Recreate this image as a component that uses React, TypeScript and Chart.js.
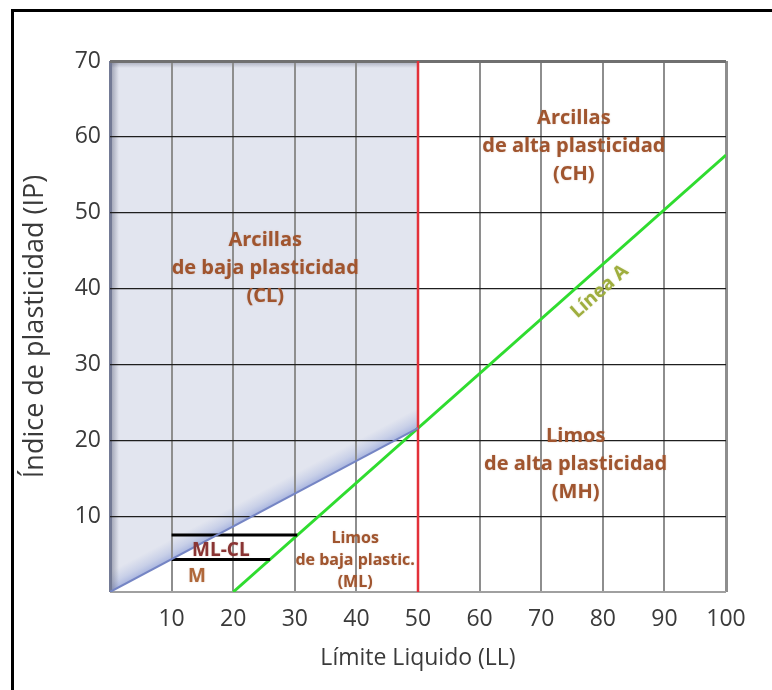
import { useEffect, useRef } from 'react';
import { Chart, registerables } from 'chart.js';

Chart.register(...registerables);

// ---- data ----
const xTickValues = [0, 10, 20, 30, 40, 50, 60, 70, 80, 90, 100];
const yTickValues = [0, 10, 20, 30, 40, 50, 60, 70];

const aLineLL = [20, 100];
const aLinePI = [0, 57.6];

const clBoundaryLL = [0, 50];
const clBoundaryPI = [0, 21.6];

const llLimitLL = [50, 50];
const llLimitPI = [0, 70];

const mlclUpperLL = [10, 30.4];
const mlclUpperPI = [7.5, 7.5];
const mlclLowerLL = [10, 26];
const mlclLowerPI = [4.3, 4.3];

const zoneLabels = [
  ['Arcillas', 'de baja plasticidad', '(CL)'],
  ['Arcillas', 'de alta plasticidad', '(CH)'],
  ['Limos', 'de alta plasticidad', '(MH)'],
  ['Limos', 'de baja plastic.', '(ML)'],
  ['ML-CL'],
  ['M'],
];
const zoneLL = [25.2, 75.3, 75.6, 39.8, 18.0, 14.1];
const zonePI = [42.7, 58.7, 16.9, 4.1, 5.5, 2.0];

const aLineLabel = 'Línea A';
const aLineLabelLL = 79.5;
const aLineLabelPI = 39.6;

const xTitle = 'Límite Liquido (LL)';
const yTitle = 'Índice de plasticidad (IP)';

// ---- styles ----
const FONT = "'Open Sans', 'DejaVu Sans', sans-serif";
const zoneStyles = [
  { size: 20, gap: 28, color: '#a0552f' },
  { size: 20, gap: 28, color: '#a0552f' },
  { size: 20, gap: 28, color: '#a0552f' },
  { size: 16, gap: 22, color: '#a0552f' },
  { size: 19, gap: 0, color: '#8a3434' },
  { size: 19, gap: 0, color: '#b0683a' },
];

const pts = (xs: number[], ys: number[]) => xs.map((v, i) => ({ x: v, y: ys[i] }));

const backgroundPlugin = {
  id: 'bgShade',
  beforeDraw(chart: any) {
    const { ctx } = chart;
    const x = chart.scales.x;
    const y = chart.scales.y;
    ctx.save();
    ctx.fillStyle = '#ffffff';
    ctx.fillRect(0, 0, chart.width, chart.height);
    ctx.fillStyle = '#000000';
    ctx.fillRect(11, 9, chart.width - 11, 3);
    ctx.fillRect(11, 9, 3, chart.height - 9);

    const x0 = x.getPixelForValue(clBoundaryLL[0]);
    const y0 = y.getPixelForValue(clBoundaryPI[0]);
    const x1 = x.getPixelForValue(clBoundaryLL[1]);
    const y1 = y.getPixelForValue(clBoundaryPI[1]);
    const top = y.getPixelForValue(y.max);
    ctx.beginPath();
    ctx.moveTo(x0, y0);
    ctx.lineTo(x1, y1);
    ctx.lineTo(x1, top);
    ctx.lineTo(x0, top);
    ctx.closePath();
    ctx.fillStyle = '#e2e5ef';
    ctx.fill();
    ctx.clip();

    // soft bluish glow above the boundary line (perpendicular gradient)
    const len = Math.hypot(x1 - x0, y1 - y0);
    const dx = (x1 - x0) / len;
    const dy = (y1 - y0) / len;
    const nx = dy;
    const ny = -dx;
    const g = ctx.createLinearGradient(x0, y0, x0 + nx * 18, y0 + ny * 18);
    g.addColorStop(0, 'rgba(120,140,210,0.55)');
    g.addColorStop(0.4, 'rgba(140,158,215,0.3)');
    g.addColorStop(1, 'rgba(150,165,215,0)');
    ctx.fillStyle = g;
    ctx.fillRect(x0 - 5, top, x1 - x0 + 10, y0 - top + 5);

    const gl = ctx.createLinearGradient(x0, 0, x0 + 9, 0);
    gl.addColorStop(0, 'rgba(85,90,115,0.55)');
    gl.addColorStop(1, 'rgba(85,90,115,0)');
    ctx.fillStyle = gl;
    ctx.fillRect(x0, top, 9, y0 - top);
    const gt = ctx.createLinearGradient(0, top, 0, top + 7);
    gt.addColorStop(0, 'rgba(85,90,115,0.45)');
    gt.addColorStop(1, 'rgba(85,90,115,0)');
    ctx.fillStyle = gt;
    ctx.fillRect(x0, top, x1 - x0, 7);
    ctx.restore();
  },
};

const labelPlugin = {
  id: 'zoneLabels',
  afterDatasetsDraw(chart: any) {
    const { ctx } = chart;
    const x = chart.scales.x;
    const y = chart.scales.y;
    ctx.save();
    ctx.textAlign = 'center';
    ctx.textBaseline = 'middle';
    zoneLabels.forEach((lines, i) => {
      const st = zoneStyles[i];
      const cx = x.getPixelForValue(zoneLL[i]);
      const cy = y.getPixelForValue(zonePI[i]);
      ctx.font = `bold ${st.size}px ${FONT}`;
      ctx.fillStyle = st.color;
      ctx.shadowColor = 'rgba(150,80,40,0.35)';
      ctx.shadowBlur = 1.5;
      const n = lines.length;
      lines.forEach((t, k) => {
        ctx.fillText(t, cx, cy + (k - (n - 1) / 2) * st.gap);
      });
    });
    // Línea A label rotated along the line
    const ax1 = x.getPixelForValue(aLineLL[0]);
    const ay1 = y.getPixelForValue(aLinePI[0]);
    const ax2 = x.getPixelForValue(aLineLL[1]);
    const ay2 = y.getPixelForValue(aLinePI[1]);
    const ang = Math.atan2(ay2 - ay1, ax2 - ax1);
    ctx.translate(x.getPixelForValue(aLineLabelLL), y.getPixelForValue(aLineLabelPI));
    ctx.rotate(ang);
    ctx.font = `bold 19px ${FONT}`;
    ctx.fillStyle = '#9fae3e';
    ctx.shadowColor = 'rgba(150,170,60,0.4)';
    ctx.fillText(aLineLabel, 0, 0);
    ctx.restore();
  },
};

export default function App() {
  const ref = useRef<HTMLCanvasElement>(null);
  useEffect(() => {
    document.body.style.margin = '0';
    const canvas = ref.current!;
    const lineDs = (label: string, data: any[], color: string, width: number) => ({
      label,
      data,
      showLine: true,
      borderColor: color,
      backgroundColor: color,
      borderWidth: width,
      pointRadius: 0,
      fill: false,
      tension: 0,
    });
    const chart = new Chart(canvas, {
      type: 'scatter',
      data: {
        datasets: [
          lineDs('CL boundary', pts(clBoundaryLL, clBoundaryPI), '#7585c4', 2),
          lineDs('ML-CL upper', pts(mlclUpperLL, mlclUpperPI), '#000000', 3),
          lineDs('ML-CL lower', pts(mlclLowerLL, mlclLowerPI), '#000000', 3),
          lineDs('LL 50', pts(llLimitLL, llLimitPI), '#e3313a', 2.5),
          lineDs('Línea A', pts(aLineLL, aLinePI), '#2fdc2f', 3),
        ],
      },
      options: {
        responsive: false,
        animation: false,
        devicePixelRatio: 1,
        layout: { padding: { left: 19, top: 61, right: 46, bottom: 18 } },
        plugins: { legend: { display: false }, tooltip: { enabled: false } },
        scales: {
          x: {
            type: 'linear',
            min: 0,
            max: 100,
            afterBuildTicks: (s: any) => {
              s.ticks = xTickValues.map((v) => ({ value: v }));
            },
            afterFit: (s: any) => {
              s.height = 80;
            },
            ticks: {
              autoSkip: false,
              maxRotation: 0,
              padding: 14,
              color: '#3a3a3a',
              font: { family: FONT, size: 23 },
              callback: (v: any) => (v === 0 ? '' : String(v)),
            },
            grid: {
              drawTicks: false,
              color: (c: any) => (c.tick && c.tick.value === 0 ? '#737a95' : '#8e8e8e'),
              lineWidth: (c: any) => (c.tick && (c.tick.value === 0 || c.tick.value === 100) ? 3 : 2),
            },
            border: { display: false },
            title: {
              display: true,
              text: xTitle,
              color: '#3a3a3a',
              font: { family: FONT, size: 23 },
              padding: 0,
            },
          },
          y: {
            type: 'linear',
            min: 0,
            max: 70,
            afterBuildTicks: (s: any) => {
              s.ticks = yTickValues.map((v) => ({ value: v }));
            },
            afterFit: (s: any) => {
              s.width = 91;
            },
            ticks: {
              padding: 9,
              color: '#3a3a3a',
              font: { family: FONT, size: 23 },
              callback: (v: any) => (v === 0 ? '' : String(v)),
            },
            grid: {
              drawTicks: false,
              color: (c: any) => {
                const v = c.tick ? c.tick.value : -1;
                if (v === 0) return '#a0a0a0';
                if (v === 70) return '#707070';
                return '#1e1e1e';
              },
              lineWidth: (c: any) => {
                const v = c.tick ? c.tick.value : -1;
                if (v === 0) return 2;
                if (v === 70) return 3;
                return 1.2;
              },
            },
            border: { display: false },
            title: {
              display: true,
              text: yTitle,
              color: '#3a3a3a',
              font: { family: FONT, size: 27 },
              padding: 0,
            },
          },
        },
      },
      plugins: [backgroundPlugin, labelPlugin],
    });
    return () => chart.destroy();
  }, []);
  return (
    <div style={{ width: 772, height: 690 }}>
      <canvas ref={ref} width={772} height={690} style={{ display: 'block' }} />
    </div>
  );
}
